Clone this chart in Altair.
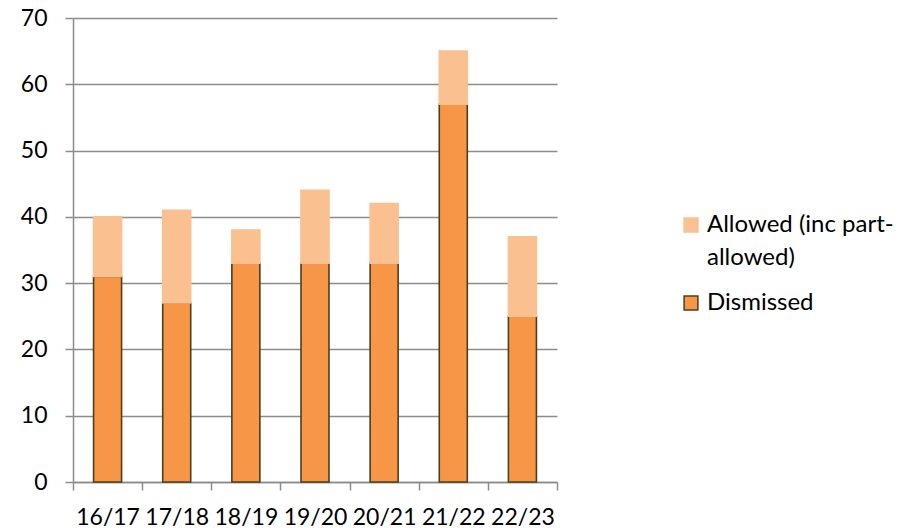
import altair as alt
import pandas as pd

# Financial years on the x axis
years = ["16/17", "17/18", "18/19", "19/20", "20/21", "21/22", "22/23"]

# Appeal outcomes per year
dismissed = [31, 27, 33, 33, 33, 57, 25]
allowed = [9, 14, 5, 11, 9, 8, 12]

series = ["Allowed (inc part-allowed)", "Dismissed"]
fill_colors = ["#FAC090", "#F79646"]
edge_colors = ["#FAC090", "#4D3F1E"]

rows = []
for yr, d, a in zip(years, dismissed, allowed):
    rows.append({"year": yr, "series": "Dismissed", "value": d, "rank": 0})
    rows.append({"year": yr, "series": "Allowed (inc part-allowed)", "value": a, "rank": 1})
df = pd.DataFrame(rows)

FONT = "Lato"
GRID = "#8C8C8C"

legend = alt.Legend(
    title=None,
    orient="none",
    legendX=606,
    legendY=195,
    symbolType="square",
    symbolSize=190,
    symbolStrokeWidth=1.5,
    labelFont=FONT,
    labelFontSize=24,
    labelColor="#000000",
    labelBaseline="middle",
    labelOffset=4,
    labelLimit=300,
    rowPadding=21,
    padding=0,
    labelExpr="datum.label == 'Dismissed' ? 'Dismissed' : ['Allowed (inc part-', 'allowed)']",
)

chart = (
    alt.Chart(df)
    .mark_bar(width=28, strokeWidth=1.6)
    .encode(
        x=alt.X(
            "year:N",
            sort=years,
            scale=alt.Scale(paddingInner=0, paddingOuter=0),
            axis=alt.Axis(
                title=None,
                labelAngle=0,
                tickBand="extent",
                tickSize=8,
                tickColor=GRID,
                tickWidth=1.5,
                domainColor=GRID,
                domainWidth=1.5,
                labelFont=FONT,
                labelFontSize=23,
                labelColor="#000000",
                labelPadding=16,
                labelBaseline="top",
            ),
        ),
        y=alt.Y(
            "value:Q",
            stack="zero",
            scale=alt.Scale(domain=[0, 70], nice=False),
            axis=alt.Axis(
                title=None,
                values=[0, 10, 20, 30, 40, 50, 60, 70],
                grid=True,
                gridColor=GRID,
                gridWidth=1.5,
                tickSize=8,
                tickColor=GRID,
                tickWidth=1.5,
                domainColor=GRID,
                domainWidth=1.5,
                labelFont=FONT,
                labelFontSize=23,
                labelColor="#000000",
                labelPadding=18,
            ),
        ),
        color=alt.Color(
            "series:N",
            scale=alt.Scale(domain=series, range=fill_colors),
            legend=legend,
        ),
        stroke=alt.Stroke(
            "series:N",
            scale=alt.Scale(domain=series, range=edge_colors),
            legend=legend,
        ),
        order=alt.Order("rank:Q"),
    )
    .properties(width=484, height=464)
    .configure(
        autosize=alt.AutoSizeParams(type="none"),
        padding={"left": 73, "top": 18, "right": 355, "bottom": 46},
        style={"guide-label": {"lineHeight": 33}},
    )
    .configure_view(stroke=None)
)

chart.save("out.html", embed_options={"renderer": "svg", "actions": False})
